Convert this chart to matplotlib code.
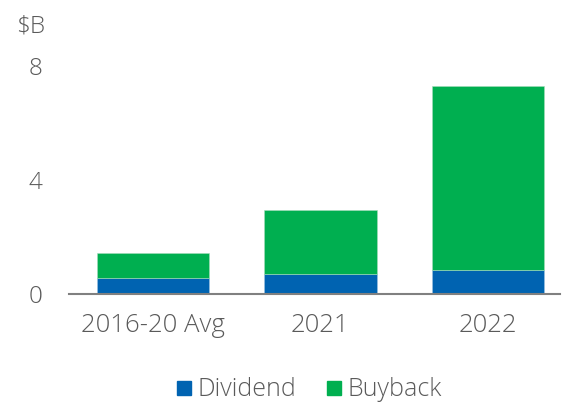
import numpy as np
import matplotlib
matplotlib.use('Agg')
import matplotlib.pyplot as plt
from matplotlib.lines import Line2D

# Dados ($B)
categorias = ['2016-20 Avg', '2021', '2022']
dividend = [0.55, 0.69, 0.83]
buyback = [0.88, 2.27, 6.47]
y_ticks = [0, 4, 8]

azul = '#0063B1'
verde = '#00AF50'
cinza = '#5a5a5a'

plt.rcParams['font.family'] = ['Open Sans', 'DejaVu Sans']
plt.rcParams['font.weight'] = 'light'

fig = plt.figure(figsize=(5.67, 4.04), dpi=100)
ax = fig.add_axes([69 / 567, 1 - 294 / 404, (560 - 69) / 567, (294 - 66) / 404])

x = np.arange(len(categorias))
ax.bar(x, dividend, width=0.67, color=azul, edgecolor='#9fc3e0', linewidth=0.4)
ax.bar(x, buyback, width=0.67, bottom=dividend, color=verde, edgecolor='#a8dcbc', linewidth=0.4)

ax.set_xlim(-0.5, 2.43)
ax.set_ylim(0, 8)
ax.set_yticks(y_ticks)
ax.set_xticks(x)
ax.set_xticklabels(categorias)
ax.tick_params(axis='y', length=0, pad=19, labelsize=17.5, labelcolor=cinza)
ax.tick_params(axis='x', length=0, pad=14, labelsize=18.5, labelcolor=cinza)

for s in ['top', 'right', 'left']:
    ax.spines[s].set_visible(False)
ax.spines['bottom'].set_color('#808080')
ax.spines['bottom'].set_linewidth(1.5)

fig.text(16 / 567, 1 - 26 / 404, '$B', fontsize=17.5, color=cinza, va='center', ha='left')

handles = [Line2D([], [], marker='s', linestyle='', markersize=10.5, color=azul),
           Line2D([], [], marker='s', linestyle='', markersize=10.5, color=verde)]
fig.legend(handles, ['Dividend', 'Buyback'], loc='center', bbox_to_anchor=(0.541, 0.035),
           ncol=2, frameon=False, fontsize=18, labelcolor=cinza,
           handletextpad=0.05, columnspacing=1.0, handlelength=1.0, borderpad=0)

fig.savefig('out.png', dpi=100)
